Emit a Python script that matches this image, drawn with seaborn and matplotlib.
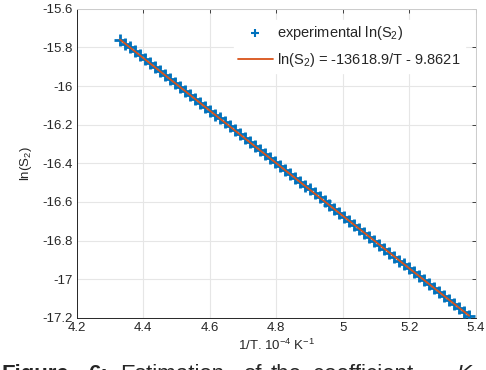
import numpy as np
import pandas as pd
import seaborn as sns
import matplotlib.pyplot as plt

# 1/T in units of 1e-4 K^-1
inv_T = [4.330, 4.345, 4.360, 4.375, 4.390, 4.405, 4.420, 4.435, 4.450, 4.465,
         4.480, 4.495, 4.510, 4.525, 4.540, 4.555, 4.570, 4.585, 4.600, 4.615,
         4.630, 4.645, 4.660, 4.675, 4.690, 4.705, 4.720, 4.735, 4.750, 4.765,
         4.780, 4.795, 4.810, 4.825, 4.840, 4.855, 4.870, 4.885, 4.900, 4.915,
         4.930, 4.945, 4.960, 4.975, 4.990, 5.005, 5.020, 5.035, 5.050, 5.065,
         5.080, 5.095, 5.110, 5.125, 5.140, 5.155, 5.170, 5.185, 5.200, 5.215,
         5.230, 5.245, 5.260, 5.275, 5.290, 5.305, 5.320, 5.335, 5.350, 5.365,
         5.380]
ln_S2 = [-15.7591, -15.7795, -15.7999, -15.8204, -15.8408, -15.8612, -15.8817, -15.9021, -15.9225, -15.9430,
         -15.9634, -15.9838, -16.0042, -16.0247, -16.0451, -16.0655, -16.0859, -16.1064, -16.1268, -16.1472,
         -16.1677, -16.1881, -16.2085, -16.2289, -16.2494, -16.2698, -16.2902, -16.3106, -16.3311, -16.3515,
         -16.3719, -16.3924, -16.4128, -16.4332, -16.4536, -16.4741, -16.4945, -16.5149, -16.5354, -16.5558,
         -16.5762, -16.5966, -16.6171, -16.6375, -16.6579, -16.6784, -16.6988, -16.7192, -16.7396, -16.7601,
         -16.7805, -16.8009, -16.8214, -16.8418, -16.8622, -16.8826, -16.9031, -16.9235, -16.9439, -16.9644,
         -16.9848, -17.0052, -17.0256, -17.0461, -17.0665, -17.0869, -17.1074, -17.1278, -17.1482, -17.1686,
         -17.1891]

# fitted line ln(S2) = A/T + B
fit_A = -13618.9
fit_B = -9.8621

x_ticks = [4.2, 4.4, 4.6, 4.8, 5.0, 5.2, 5.4]
x_tick_labels = ['4.2', '4.4', '4.6', '4.8', '5', '5.2', '5.4']
y_ticks = [-17.2, -17.0, -16.8, -16.6, -16.4, -16.2, -16.0, -15.8, -15.6]
y_tick_labels = ['-17.2', '-17', '-16.8', '-16.6', '-16.4', '-16.2', '-16', '-15.8', '-15.6']

df = pd.DataFrame({'inv_T': inv_T, 'ln_S2': ln_S2})
df['fit'] = fit_A * 1e-4 * df['inv_T'] + fit_B

sns.set_style('white')
plt.rcParams['font.family'] = ['Liberation Sans', 'DejaVu Sans']
plt.rcParams['mathtext.fontset'] = 'custom'
plt.rcParams['mathtext.rm'] = 'Liberation Sans'
plt.rcParams['mathtext.it'] = 'Liberation Sans:italic'

blue = '#0072BD'
orange = '#D95319'
dark = '#262626'

fig = plt.figure(figsize=(4.86, 3.70), dpi=100)
ax = fig.add_axes([0.158, 0.141, 0.821, 0.835])

sns.scatterplot(data=df, x='inv_T', y='ln_S2', marker='+', s=75, color=blue,
                linewidth=2.0, ax=ax, label=r'experimental ln(S$_2$)', zorder=3)
sns.lineplot(data=df, x='inv_T', y='fit', color=orange, linewidth=1.3, ax=ax,
             label=r'ln(S$_2$) = -13618.9/T - 9.8621', zorder=4)

ax.set_xlim(4.2, 5.4)
ax.set_ylim(-17.2, -15.6)
ax.set_xticks(x_ticks)
ax.set_xticklabels(x_tick_labels)
ax.set_yticks(y_ticks)
ax.set_yticklabels(y_tick_labels)
ax.grid(True, color='#e6e6e6', linewidth=0.8)
ax.set_axisbelow(True)
ax.tick_params(direction='in', length=3, width=0.6, colors=dark, labelsize=9.5,
               top=True, right=True, pad=3)
for side in ['left', 'bottom']:
    ax.spines[side].set_color(dark)
    ax.spines[side].set_linewidth(0.7)
for side in ['top', 'right']:
    ax.spines[side].set_color('#cccccc')
    ax.spines[side].set_linewidth(0.7)

ax.set_xlabel(r'1/T. 10$^{-4}$ K$^{-1}$', fontsize=9.5, color=dark, labelpad=3)
ax.set_ylabel(r'ln(S$_2$)', fontsize=9.5, color=dark, labelpad=6)

leg = ax.legend(loc='upper left', bbox_to_anchor=(0.393, 0.965), frameon=True,
                fontsize=10.5, handlelength=2.4, handletextpad=0.3,
                borderpad=0.3, labelspacing=0.62, borderaxespad=0)
leg.get_frame().set_edgecolor('white')
leg.get_frame().set_facecolor('white')
leg.get_frame().set_alpha(1.0)
leg.legend_handles[0].set_sizes([30])
leg.legend_handles[0].set_linewidth(1.5)

# partly visible caption below the chart
cap_y = 1 - 364 / 370
cap_size = 16
fig.text(0.004, cap_y, 'Figure', fontsize=cap_size, fontweight='bold', va='top')
fig.text(0.181, cap_y, '6:', fontsize=cap_size, fontweight='bold', va='top')
fig.text(0.247, cap_y, 'Estimation', fontsize=cap_size, va='top')
fig.text(0.500, cap_y, 'of', fontsize=cap_size, va='top')
fig.text(0.556, cap_y, 'the', fontsize=cap_size, va='top')
fig.text(0.644, cap_y, 'coefficient', fontsize=cap_size, va='top')
fig.text(0.938, cap_y, 'K', fontsize=cap_size, style='italic', va='top')

plt.savefig('out.png', dpi=100)
plt.close()
